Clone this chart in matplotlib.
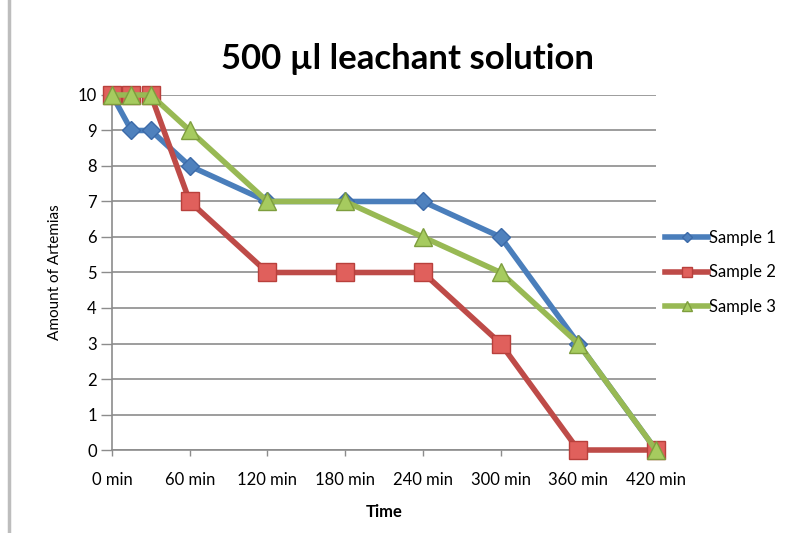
import matplotlib
matplotlib.use("Agg")
import matplotlib.pyplot as plt
from matplotlib.lines import Line2D

plt.rcParams['font.family'] = ['Lato', 'DejaVu Sans']

# Observation times (minutes) and surviving counts per sample
times = [0, 15, 30, 60, 120, 180, 240, 300, 360, 420]
sample1 = [10, 9, 9, 8, 7, 7, 7, 6, 3, 0]
sample2 = [10, 10, 10, 7, 5, 5, 5, 3, 0, 0]
sample3 = [10, 10, 10, 9, 7, 7, 6, 5, 3, 0]
series_names = ["Sample 1", "Sample 2", "Sample 3"]
tick_times = [0, 60, 120, 180, 240, 300, 360, 420]
tick_labels = ["0 min", "60 min", "120 min", "180 min", "240 min", "300 min", "360 min", "420 min"]

fig = plt.figure(figsize=(7.95, 5.33), dpi=100)
ax = fig.add_axes([0.1409, 0.1557, 0.8252 - 0.1409, 0.8218 - 0.1557])

styles = [
    dict(color="#4A7EBB", marker="D", markersize=9, mfc="#4F81BD", mec="#3C6AA8"),
    dict(color="#BE4B48", marker="s", markersize=13, mfc="#E0605C", mec="#B8403C"),
    dict(color="#98B954", marker="^", markersize=13, mfc="#A6CB5F", mec="#7E9E3E"),
]
for vals, st in zip([sample1, sample2, sample3], styles):
    ax.plot(times, vals, linewidth=4, solid_joinstyle="round", clip_on=False, zorder=3, **st)

ax.set_xlim(0, 420)
ax.set_ylim(0, 10)
ax.set_yticks(range(0, 11))
ax.set_xticks(tick_times)
ax.set_xticklabels(tick_labels)
ax.yaxis.grid(True, color="#8C8C8C", linewidth=1.2)
ax.set_axisbelow(True)
for side in ["top", "right"]:
    ax.spines[side].set_visible(False)
for side in ["left", "bottom"]:
    ax.spines[side].set_color("#8C8C8C")
    ax.spines[side].set_linewidth(1.2)
ax.tick_params(axis="y", length=8, width=1, color="#8C8C8C", labelsize=12, pad=3)
ax.tick_params(axis="x", length=4, width=1, color="#8C8C8C", labelsize=12, pad=12, direction="out")

ax.set_xlabel("Time", fontsize=12, fontweight="bold", labelpad=11)
ax.set_ylabel("Amount of Artemias", fontsize=11, labelpad=11)
fig.text(0.512, 0.890, "500 µl leachant solution", ha="center", va="center",
         fontsize=25, fontweight="bold")

handles = [Line2D([0], [0], linewidth=4, **dict(st, markersize=st["markersize"] * 0.6)) for st in styles]
fig.legend(handles, series_names, loc="center left", bbox_to_anchor=(0.828, 0.489),
           frameon=False, fontsize=12, handlelength=2.6, handletextpad=0.05,
           labelspacing=1.1, borderaxespad=0)

# page border on the left edge
fig.add_artist(Line2D([0.011, 0.011], [0, 1], color="#BDBDBD", linewidth=2.5,
                      transform=fig.transFigure))

fig.savefig("out.png", dpi=100)
